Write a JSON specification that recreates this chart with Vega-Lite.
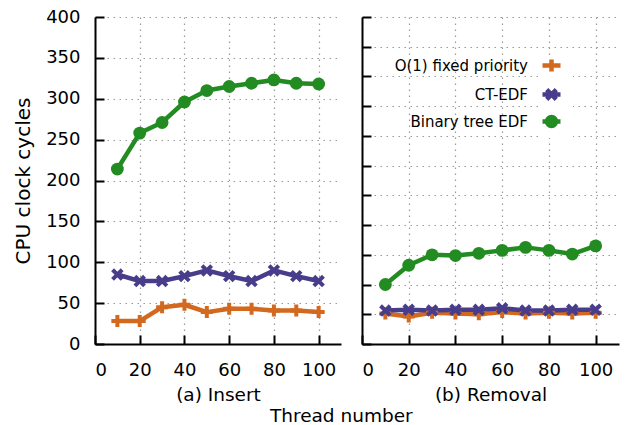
{
  "$schema": "https://vega.github.io/schema/vega-lite/v6.json",
  "padding": {"left": 13, "top": 8, "right": 13, "bottom": 0},
  "config": {
    "font": "DejaVu Sans",
    "view": {"stroke": null},
    "axis": {
      "domainColor": "black", "domainWidth": 2,
      "tickColor": "black", "tickWidth": 2, "tickSize": -9,
      "labelFontSize": 18, "labelColor": "black", "labelPadding": 24,
      "titleFontSize": 18.5, "titleFontWeight": "normal", "titleColor": "black",
      "gridColor": "#999999", "gridDash": [1.5, 4.5], "gridWidth": 1.2
    }
  },
  "title": {"text": "Thread number", "orient": "bottom", "fontSize": 18.5, "fontWeight": "normal", "anchor": "middle", "frame": "bounds", "dx": 25, "color": "black", "offset": 3},
  "spacing": 20,
  "resolve": {"scale": {"color": "independent"}, "legend": {"color": "independent"}},
  "datasets": {
    "insert": [
      {"threads": 10, "series": "O(1) fixed priority", "cycles": 28},
      {"threads": 20, "series": "O(1) fixed priority", "cycles": 28},
      {"threads": 30, "series": "O(1) fixed priority", "cycles": 45},
      {"threads": 40, "series": "O(1) fixed priority", "cycles": 48},
      {"threads": 50, "series": "O(1) fixed priority", "cycles": 39},
      {"threads": 60, "series": "O(1) fixed priority", "cycles": 43},
      {"threads": 70, "series": "O(1) fixed priority", "cycles": 43},
      {"threads": 80, "series": "O(1) fixed priority", "cycles": 41},
      {"threads": 90, "series": "O(1) fixed priority", "cycles": 41},
      {"threads": 100, "series": "O(1) fixed priority", "cycles": 39},
      {"threads": 10, "series": "CT-EDF", "cycles": 85},
      {"threads": 20, "series": "CT-EDF", "cycles": 77},
      {"threads": 30, "series": "CT-EDF", "cycles": 77},
      {"threads": 40, "series": "CT-EDF", "cycles": 83},
      {"threads": 50, "series": "CT-EDF", "cycles": 90},
      {"threads": 60, "series": "CT-EDF", "cycles": 83},
      {"threads": 70, "series": "CT-EDF", "cycles": 77},
      {"threads": 80, "series": "CT-EDF", "cycles": 90},
      {"threads": 90, "series": "CT-EDF", "cycles": 83},
      {"threads": 100, "series": "CT-EDF", "cycles": 77},
      {"threads": 10, "series": "Binary tree EDF", "cycles": 214},
      {"threads": 20, "series": "Binary tree EDF", "cycles": 258},
      {"threads": 30, "series": "Binary tree EDF", "cycles": 271},
      {"threads": 40, "series": "Binary tree EDF", "cycles": 296},
      {"threads": 50, "series": "Binary tree EDF", "cycles": 310},
      {"threads": 60, "series": "Binary tree EDF", "cycles": 315},
      {"threads": 70, "series": "Binary tree EDF", "cycles": 319},
      {"threads": 80, "series": "Binary tree EDF", "cycles": 323},
      {"threads": 90, "series": "Binary tree EDF", "cycles": 319},
      {"threads": 100, "series": "Binary tree EDF", "cycles": 318}
    ],
    "removal": [
      {"threads": 10, "series": "O(1) fixed priority", "cycles": 41},
      {"threads": 20, "series": "O(1) fixed priority", "cycles": 37},
      {"threads": 30, "series": "O(1) fixed priority", "cycles": 42},
      {"threads": 40, "series": "O(1) fixed priority", "cycles": 41},
      {"threads": 50, "series": "O(1) fixed priority", "cycles": 40},
      {"threads": 60, "series": "O(1) fixed priority", "cycles": 43},
      {"threads": 70, "series": "O(1) fixed priority", "cycles": 41},
      {"threads": 80, "series": "O(1) fixed priority", "cycles": 42},
      {"threads": 90, "series": "O(1) fixed priority", "cycles": 41},
      {"threads": 100, "series": "O(1) fixed priority", "cycles": 42},
      {"threads": 10, "series": "CT-EDF", "cycles": 45},
      {"threads": 20, "series": "CT-EDF", "cycles": 46},
      {"threads": 30, "series": "CT-EDF", "cycles": 45},
      {"threads": 40, "series": "CT-EDF", "cycles": 46},
      {"threads": 50, "series": "CT-EDF", "cycles": 46},
      {"threads": 60, "series": "CT-EDF", "cycles": 48},
      {"threads": 70, "series": "CT-EDF", "cycles": 45},
      {"threads": 80, "series": "CT-EDF", "cycles": 45},
      {"threads": 90, "series": "CT-EDF", "cycles": 46},
      {"threads": 100, "series": "CT-EDF", "cycles": 46},
      {"threads": 10, "series": "Binary tree EDF", "cycles": 80},
      {"threads": 20, "series": "Binary tree EDF", "cycles": 106},
      {"threads": 30, "series": "Binary tree EDF", "cycles": 120},
      {"threads": 40, "series": "Binary tree EDF", "cycles": 119},
      {"threads": 50, "series": "Binary tree EDF", "cycles": 122},
      {"threads": 60, "series": "Binary tree EDF", "cycles": 126},
      {"threads": 70, "series": "Binary tree EDF", "cycles": 130},
      {"threads": 80, "series": "Binary tree EDF", "cycles": 126},
      {"threads": 90, "series": "Binary tree EDF", "cycles": 121},
      {"threads": 100, "series": "Binary tree EDF", "cycles": 132}
    ]
  },
  "hconcat": [
    {
      "width": 246, "height": 327,
      "data": {"name": "insert"},
      "encoding": {
        "x": {"field": "threads", "type": "quantitative", "scale": {"domain": [0, 110], "nice": false}, "axis": {"values": [0, 20, 40, 60, 80, 100], "title": "(a) Insert", "titlePadding": 6, "labelPadding": 26}},
        "y": {"field": "cycles", "type": "quantitative", "scale": {"domain": [0, 400], "nice": false}, "axis": {"values": [0, 50, 100, 150, 200, 250, 300, 350, 400], "title": "CPU clock cycles", "titleFontSize": 20, "titlePadding": 12}}
      },
      "layer": [
        {
          "mark": {"type": "line", "strokeWidth": 4.5, "strokeCap": "round", "strokeJoin": "round"},
          "encoding": {
            "color": {"field": "series", "type": "nominal", "scale": {"domain": ["O(1) fixed priority", "CT-EDF", "Binary tree EDF"], "range": ["#d2691e", "#483d8b", "#228b22"]}, "legend": null}
          }
        },
        {
          "transform": [{"filter": "datum.series === 'O(1) fixed priority'"}],
          "mark": {"type": "point", "filled": false, "strokeWidth": 4, "opacity": 1, "size": 144, "shape": "M-1,0H1M0,-1V1", "color": "#d2691e"},
          "encoding": {}
        },
        {
          "transform": [{"filter": "datum.series === 'CT-EDF'"}],
          "mark": {"type": "point", "filled": false, "strokeWidth": 4, "opacity": 1, "size": 144, "shape": "M-0.8,-0.8L0.8,0.8M-0.8,0.8L0.8,-0.8", "color": "#483d8b"},
          "encoding": {}
        },
        {
          "transform": [{"filter": "datum.series === 'Binary tree EDF'"}],
          "mark": {"type": "point", "filled": true, "opacity": 1, "size": 165, "shape": "circle", "color": "#228b22"},
          "encoding": {}
        }
      ]
    },
    {
      "width": 257, "height": 327,
      "data": {"name": "removal"},
      "encoding": {
        "x": {"field": "threads", "type": "quantitative", "scale": {"domain": [0, 110], "nice": false}, "axis": {"values": [0, 20, 40, 60, 80, 100], "title": "(b) Removal", "titlePadding": 6, "labelPadding": 26}},
        "y": {"field": "cycles", "type": "quantitative", "scale": {"domain": [0, 440], "nice": false}, "axis": {"values": [0, 40, 80, 120, 160, 200, 240, 280, 320, 360, 400, 440], "labels": false, "title": null}}
      },
      "layer": [
        {
          "mark": {"type": "line", "strokeWidth": 4.5, "strokeCap": "round", "strokeJoin": "round"},
          "encoding": {
            "color": {"field": "series", "type": "nominal", "scale": {"domain": ["O(1) fixed priority", "CT-EDF", "Binary tree EDF"], "range": ["#d2691e", "#483d8b", "#228b22"]},
              "legend": {"orient": "none", "legendX": 179, "legendY": 38, "title": null,
                "labelFontSize": 15, "labelColor": "black", "labelAlign": "right", "labelOffset": -31,
                "symbolSize": 64, "symbolStrokeWidth": 4.5, "fillColor": "white", "padding": 3, "rowPadding": -1,
                "encode": {"symbols": {"update": {
                  "shape": {"signal": "datum.value === 'O(1) fixed priority' ? 'M-2.25,0H2.25M0,-1.5V1.5' : datum.value === 'CT-EDF' ? 'M-2.25,0H2.25M-1.2,-1.2L1.2,1.2M-1.2,1.2L1.2,-1.2' : 'M-2.25,0H2.25M1.125,0A1.125,1.125 0 1,1 -1.125,0A1.125,1.125 0 1,1 1.125,0Z'"},
                  "fill": {"signal": "datum.value === 'Binary tree EDF' ? '#228b22' : 'transparent'"},
                  "strokeWidth": {"value": 4.5},
                  "opacity": {"value": 1}
                }}}
              }}
          }
        },
        {
          "transform": [{"filter": "datum.series === 'O(1) fixed priority'"}],
          "mark": {"type": "point", "filled": false, "strokeWidth": 4, "opacity": 1, "size": 144, "shape": "M-1,0H1M0,-1V1", "color": "#d2691e"},
          "encoding": {}
        },
        {
          "transform": [{"filter": "datum.series === 'CT-EDF'"}],
          "mark": {"type": "point", "filled": false, "strokeWidth": 4, "opacity": 1, "size": 144, "shape": "M-0.8,-0.8L0.8,0.8M-0.8,0.8L0.8,-0.8", "color": "#483d8b"},
          "encoding": {}
        },
        {
          "transform": [{"filter": "datum.series === 'Binary tree EDF'"}],
          "mark": {"type": "point", "filled": true, "opacity": 1, "size": 165, "shape": "circle", "color": "#228b22"},
          "encoding": {}
        }
      ]
    }
  ]
}
